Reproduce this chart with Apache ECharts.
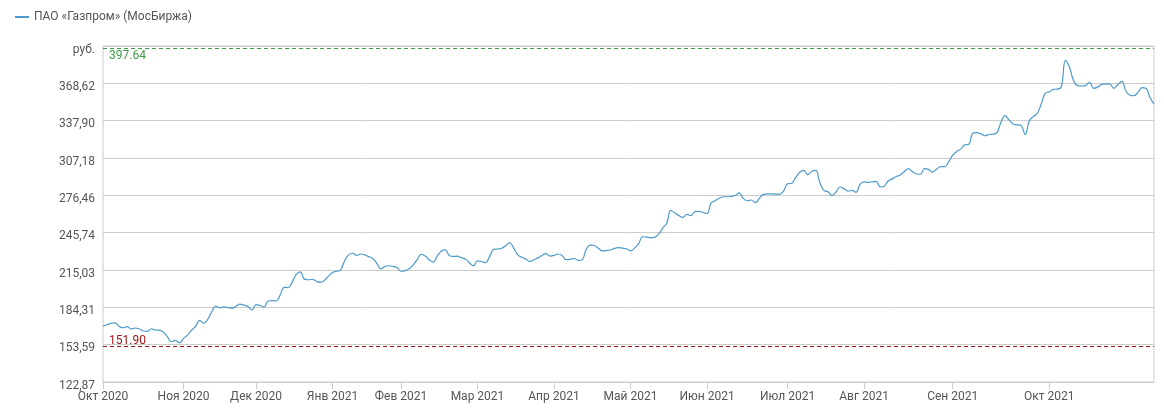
<!DOCTYPE html>
<html>
<head>
<meta charset="utf-8">
<script src="https://cdn.jsdelivr.net/npm/echarts@6/dist/echarts.min.js"></script>
<style>
  html, body { margin: 0; padding: 0; background: #fff; }
  #chart { width: 1164px; height: 413px; }
</style>
</head>
<body>
<div id="chart"></div>
<script>
// month labels on the x axis
const monthLabels = ['Окт 2020', 'Ноя 2020', 'Дек 2020', 'Янв 2021', 'Фев 2021', 'Мар 2021',
    'Апр 2021', 'Май 2021', 'Июн 2021', 'Июл 2021', 'Авг 2021', 'Сен 2021', 'Окт 2021'];

// close prices, руб., one array per month
const oct2020 = [168.9, 170.0, 171.2, 171.5, 168.5, 167.5, 168.4, 166.5, 167.3, 166.5,
    164.8, 164.5, 166.7, 165.6, 165.6, 163.8, 160.0, 156.0, 157.2, 155.0];
const nov2020 = [158.8, 161.5, 165.5, 168.6, 173.5, 171.2, 174.5, 180.5, 185.4, 184.0,
    184.6, 184.2, 183.5, 185.2, 187.0, 186.2, 185.0, 182.1];
const dec2020 = [186.5, 185.8, 184.6, 189.5, 189.8, 189.6, 194.5, 200.8, 200.6, 205.0,
    211.5, 213.5, 207.5, 207.0, 207.4, 205.8, 204.8, 206.5, 210.0];
const jan2021 = [213.0, 214.0, 215.0, 222.5, 227.5, 228.8, 227.1, 228.2, 227.5, 226.0,
    224.5, 220.5, 216.0, 218.0, 218.5, 218.0, 217.0];
const feb2021 = [214.0, 214.5, 216.0, 219.0, 223.5, 227.8, 226.5, 223.5, 221.5, 226.5,
    230.5, 231.5, 227.0, 226.2, 226.4, 225.2, 224.0, 221.0, 218.4];
const mar2021 = [222.5, 222.0, 221.0, 226.0, 232.0, 232.3, 232.9, 235.0, 237.6, 233.0,
    227.5, 225.5, 224.0, 221.9, 223.5, 225.0, 227.0, 228.5, 226.5];
const apr2021 = [227.0, 228.2, 227.0, 223.5, 223.8, 224.5, 223.0, 223.5, 232.0, 235.5,
    235.2, 233.0, 230.7, 231.0, 231.5, 232.8, 233.4, 233.0, 232.5];
const may2021 = [230.8, 233.0, 236.5, 242.4, 242.0, 241.6, 242.0, 244.5, 249.5, 253.5,
    264.0, 262.0, 259.8, 258.4, 260.8, 259.8, 263.0, 263.2, 262.5];
const jun2021 = [261.5, 270.0, 272.0, 274.0, 275.3, 275.3, 275.5, 276.3, 278.5, 274.0,
    272.0, 272.6, 270.5, 274.0, 277.3, 277.6, 277.6, 277.5, 277.3, 280.0];
const jul2021 = [286.0, 286.4, 291.0, 295.5, 297.0, 293.5, 296.0, 297.0, 287.0, 280.5,
    279.5, 276.5, 279.0, 283.3, 282.0, 280.0, 280.5, 279.0, 285.5];
const aug2021 = [287.5, 287.2, 287.6, 288.0, 283.5, 284.0, 288.3, 290.0, 292.0, 293.2,
    296.0, 298.5, 296.0, 294.0, 293.8, 298.5, 297.8, 295.5, 298.0, 300.0, 300.0, 304.0];
const sep2021 = [309.5, 312.6, 314.5, 318.0, 318.4, 327.5, 328.0, 327.0, 325.5, 326.5,
    326.7, 328.0, 336.5, 342.0, 338.5, 335.2, 334.5, 334.0, 326.5, 337.5, 341.2, 343.8,
    351.5, 360.5];
const oct2021 = [361.6, 363.7, 363.8, 366.0, 387.5, 382.0, 371.0, 366.8, 366.4, 366.7,
    369.5, 364.5, 365.5, 367.8, 368.0, 368.1, 364.5, 367.5, 370.3, 362.5, 358.8, 358.4,
    361.0, 365.0, 364.6, 357.0, 351.4];

// reference lines
const highValue = 397.64;
const lowValue = 151.90;

// y axis
const yMin = 122.87;
const yStep = 30.7175;
const yTickLabels = ['122,87', '153,59', '184,31', '215,03', '245,74', '276,46', '307,18',
    '337,90', '368,62', 'руб.'];

const months = [oct2020, nov2020, dec2020, jan2021, feb2021, mar2021, apr2021, may2021,
    jun2021, jul2021, aug2021, sep2021, oct2021];

let categories = [];
let values = [];
months.forEach((arr, m) => {
    arr.forEach((v, j) => {
        categories.push(monthLabels[m] + '|' + j);
        values.push(v);
    });
});

function isMonthStart(idx, cat) {
    return cat.split('|')[1] === '0';
}

let myChart = echarts.init(document.getElementById('chart'));
let option = {
    animation: false,
    textStyle: { fontFamily: 'Roboto' },
    legend: {
        left: 10,
        top: 6,
        icon: 'rect',
        itemWidth: 14,
        itemHeight: 2,
        itemGap: 20,
        textStyle: { color: '#555', fontSize: 12, fontFamily: 'Roboto' },
        data: ['ПАО «Газпром» (МосБиржа)']
    },
    grid: {
        left: 103,
        right: 10,
        top: 46,
        bottom: 31,
        show: true,
        borderColor: '#cccccc',
        borderWidth: 1
    },
    xAxis: {
        type: 'category',
        boundaryGap: false,
        data: categories,
        axisLine: { show: true, lineStyle: { color: '#cccccc' } },
        axisTick: {
            show: true,
            interval: isMonthStart,
            length: 7,
            lineStyle: { color: '#cccccc' }
        },
        axisLabel: {
            interval: isMonthStart,
            color: '#555',
            fontSize: 12,
            fontFamily: 'Roboto',
            margin: 9,
            formatter: (v) => v.split('|')[0]
        },
        splitLine: { show: false }
    },
    yAxis: {
        type: 'value',
        min: yMin,
        max: yMin + yStep * 9,
        interval: yStep,
        axisLine: { show: false },
        axisTick: { show: false },
        axisLabel: {
            color: '#555',
            fontSize: 12,
            fontFamily: 'Roboto',
            margin: 8,
            verticalAlign: 'top',
            lineHeight: 7,
            formatter: (v) => yTickLabels[Math.round((v - yMin) / yStep)]
        },
        splitLine: { show: true, lineStyle: { color: '#cccccc' } }
    },
    series: [
        {
            name: 'ПАО «Газпром» (МосБиржа)',
            type: 'line',
            data: values,
            smooth: 0.4,
            showSymbol: false,
            symbol: 'none',
            color: '#4d9bcb',
            lineStyle: { width: 1.2, color: '#4d9bcb' },
            markLine: {
                silent: true,
                symbol: 'none',
                data: [
                    {
                        yAxis: highValue,
                        lineStyle: { color: '#3f9a4a', type: [4, 3], width: 1 },
                        label: {
                            position: 'insideStartBottom',
                            formatter: highValue.toFixed(2),
                            color: '#3f9a4a',
                            fontSize: 12,
                            fontFamily: 'Roboto',
                            distance: [6, 2]
                        }
                    },
                    {
                        yAxis: lowValue,
                        lineStyle: { color: '#a01818', type: [4, 3], width: 1 },
                        label: {
                            position: 'insideStartTop',
                            formatter: lowValue.toFixed(2),
                            color: '#a01818',
                            fontSize: 12,
                            fontFamily: 'Roboto',
                            distance: [6, 0]
                        }
                    }
                ]
            }
        }
    ]
};
myChart.setOption(option);
</script>
</body>
</html>
